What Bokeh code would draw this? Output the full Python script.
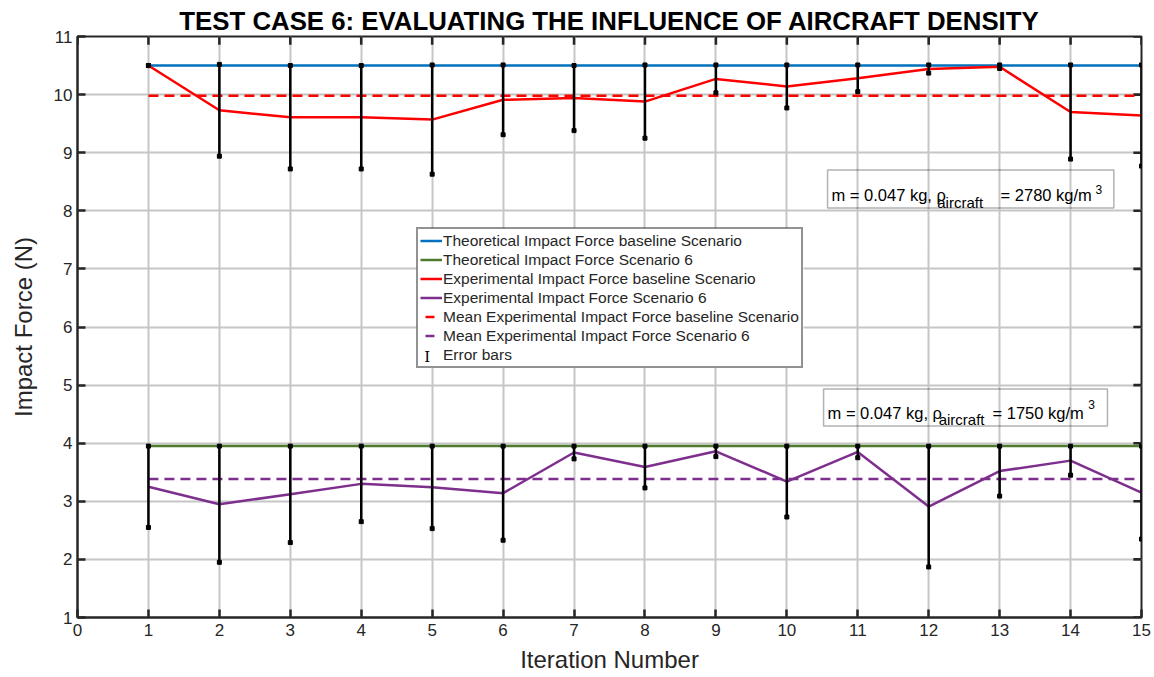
from bokeh.plotting import figure
from bokeh.models import (Range1d, FixedTicker, Legend, LegendItem,
                          Label, BoxAnnotation, ColumnDataSource)
from bokeh.embed import file_html
from bokeh.resources import INLINE

# ---------------- data ----------------
iterations = [1, 2, 3, 4, 5, 6, 7, 8, 9, 10, 11, 12, 13, 14, 15]
theo_baseline = [10.5, 10.5, 10.5, 10.5, 10.5, 10.5, 10.5, 10.5, 10.5, 10.5, 10.5, 10.5, 10.5, 10.5, 10.5]
theo_s6 = [3.95, 3.95, 3.95, 3.95, 3.95, 3.95, 3.95, 3.95, 3.95, 3.95, 3.95, 3.95, 3.95, 3.95, 3.95]
exp_baseline = [10.50, 9.73, 9.61, 9.61, 9.57, 9.91, 9.94, 9.88, 10.27, 10.14, 10.28, 10.44, 10.48, 9.70, 9.64]
exp_s6 = [3.25, 2.95, 3.12, 3.30, 3.24, 3.14, 3.84, 3.59, 3.86, 3.34, 3.85, 2.91, 3.52, 3.70, 3.15]
err_baseline = [0.00, 0.79, 0.89, 0.89, 0.94, 0.60, 0.56, 0.63, 0.24, 0.37, 0.23, 0.07, 0.03, 0.81, 0.87]
err_s6 = [0.70, 1.00, 0.83, 0.65, 0.71, 0.81, 0.11, 0.36, 0.09, 0.61, 0.10, 1.04, 0.43, 0.25, 0.80]
mean_baseline = [9.98] * 15
mean_s6 = [3.385] * 15
x_ticks = [0, 1, 2, 3, 4, 5, 6, 7, 8, 9, 10, 11, 12, 13, 14, 15]
y_ticks = [1, 2, 3, 4, 5, 6, 7, 8, 9, 10, 11]
X_MIN, X_MAX, Y_MIN, Y_MAX = 0, 15, 1, 11

TITLE = "TEST CASE 6: EVALUATING THE INFLUENCE OF AIRCRAFT DENSITY"
FONT = "Liberation Sans"
TXT = "#262626"
BLUE = "#0072BD"
GREEN = "#4E7A2E"
RED = "#FF0000"
PURPLE = "#7E2F8E"

p = figure(width=1154, height=677, x_range=Range1d(X_MIN, X_MAX), y_range=Range1d(Y_MIN, Y_MAX),
           output_backend="svg", toolbar_location=None,
           min_border_left=77, min_border_right=13, min_border_top=36, min_border_bottom=60)

p.title.text = TITLE
p.title.align = "center"
p.title.text_font = FONT
p.title.text_font_size = "25.8px"
p.title.text_font_style = "bold"
p.title.text_color = "#000000"
p.title.standoff = 4

p.outline_line_color = TXT
p.outline_line_width = 2
p.background_fill_color = "white"
p.border_fill_color = "white"

for ax in (p.xaxis[0], p.yaxis[0]):
    ax.major_label_text_font = FONT
    ax.major_label_text_font_size = "17px"
    ax.major_label_text_color = TXT
    ax.axis_line_color = TXT
    ax.axis_line_width = 2
    ax.major_tick_line_color = TXT
    ax.major_tick_line_width = 2.5
    ax.major_tick_in = 8
    ax.major_tick_out = 0
    ax.minor_tick_line_color = None
    ax.axis_label_text_font = FONT
    ax.axis_label_text_font_size = "24px"
    ax.axis_label_text_font_style = "normal"
    ax.axis_label_text_color = TXT

p.xaxis[0].ticker = FixedTicker(ticks=x_ticks)
p.yaxis[0].ticker = FixedTicker(ticks=y_ticks)
p.xaxis[0].axis_label = "Iteration Number"
p.yaxis[0].axis_label = "Impact Force (N)"
p.xaxis[0].major_label_standoff = 6
p.xaxis[0].axis_label_standoff = 7
p.yaxis[0].major_label_standoff = 5
p.yaxis[0].axis_label_standoff = 14

p.xgrid.ticker = FixedTicker(ticks=x_ticks)
p.ygrid.ticker = FixedTicker(ticks=y_ticks)
for g in (p.xgrid[0], p.ygrid[0]):
    g.grid_line_color = "#c6c6c6"
    g.grid_line_width = 2

# inward ticks on the top and right edges of the box (about 8 px long, 2.5 px thick)
TICK_LEN_Y = 0.14
TICK_LEN_X = 0.115
TICK_W_X = 0.036
TICK_W_Y = 0.044
p.vbar(x=x_ticks, top=[Y_MAX] * len(x_ticks), bottom=[Y_MAX - TICK_LEN_Y] * len(x_ticks),
       width=TICK_W_X, fill_color=TXT, line_color=None)
p.hbar(y=y_ticks, right=[X_MAX] * len(y_ticks), left=[X_MAX - TICK_LEN_X] * len(y_ticks),
       height=TICK_W_Y, fill_color=TXT, line_color=None)

src = ColumnDataSource(dict(
    x=iterations, tb=theo_baseline, t6=theo_s6, eb=exp_baseline, e6=exp_s6,
    mb=mean_baseline, m6=mean_s6,
    lb=[v - e for v, e in zip(exp_baseline, err_baseline)],
    ub=[v + e for v, e in zip(exp_baseline, err_baseline)],
    l6=[v - e for v, e in zip(exp_s6, err_s6)],
    u6=[v + e for v, e in zip(exp_s6, err_s6)],
))

r_tb = p.line("x", "tb", source=src, line_color=BLUE, line_width=2.5)
r_t6 = p.line("x", "t6", source=src, line_color=GREEN, line_width=2.5)
r_mb = p.line("x", "mb", source=src, line_color=RED, line_width=2.5, line_dash="10 6")
r_m6 = p.line("x", "m6", source=src, line_color=PURPLE, line_width=2.5, line_dash="10 6")
r_eb = p.line("x", "eb", source=src, line_color=RED, line_width=2.5)
r_e6 = p.line("x", "e6", source=src, line_color=PURPLE, line_width=2.5)

# error bars
for lo, hi in (("lb", "ub"), ("l6", "u6")):
    p.segment(x0="x", y0=lo, x1="x", y1=hi, source=src, line_color="black", line_width=2.5)
    p.scatter("x", lo, source=src, marker="square", size=4, fill_color="black", line_color="black")
    p.scatter("x", hi, source=src, marker="square", size=4, fill_color="black", line_color="black")

# legend-only proxies (drawn outside the visible ranges)
px = [X_MIN - 5]
py = [Y_MIN - 5]
leg_mb = p.line(px, py, line_color=RED, line_width=2.5, line_dash="0 5 9 40")
leg_m6 = p.line(px, py, line_color=PURPLE, line_width=2.5, line_dash="0 5 9 40")
leg_err = p.line(px, py, line_color=None)

# white panel under the (transparent) legend so the grid is hidden there
LEG_BOX = (4.779, 10.235, 5.294, 7.704)
p.add_layout(BoxAnnotation(left=LEG_BOX[0], right=LEG_BOX[1], bottom=LEG_BOX[2], top=LEG_BOX[3],
                           fill_color="white", fill_alpha=1, line_color=None))
# error-bar symbol of the legend
p.add_layout(Label(x=4.93, y=5.49, text="I", text_font="DejaVu Serif", text_font_size="15px",
                   text_color="black", text_align="center", text_baseline="middle"))

legend = Legend(items=[
    LegendItem(label="Theoretical Impact Force baseline Scenario", renderers=[r_tb]),
    LegendItem(label="Theoretical Impact Force Scenario 6", renderers=[r_t6]),
    LegendItem(label="Experimental Impact Force baseline Scenario", renderers=[r_eb]),
    LegendItem(label="Experimental Impact Force Scenario 6", renderers=[r_e6]),
    LegendItem(label="Mean Experimental Impact Force baseline Scenario", renderers=[leg_mb]),
    LegendItem(label="Mean Experimental Impact Force Scenario 6", renderers=[leg_m6]),
    LegendItem(label="Error bars", renderers=[leg_err]),
], location=(339, 249))
legend.label_text_font = FONT
legend.label_text_font_size = "15.5px"
legend.label_text_color = TXT
legend.label_height = 19
legend.glyph_height = 19
legend.glyph_width = 22
legend.label_standoff = 1
legend.spacing = 0
legend.padding = 2
legend.margin = 0
legend.border_line_color = TXT
legend.border_line_width = 2
legend.background_fill_alpha = 0
p.add_layout(legend)

# annotation boxes (positions in data coordinates)
def note(box, main_x, main_y, sub_x, sub_y, rest_x, sup_x, sup_y, rest_text):
    left, right, bottom, top = box
    p.add_layout(BoxAnnotation(left=left, right=right, bottom=bottom, top=top,
                               fill_alpha=0, line_color="black", line_width=1.5))
    for (x, y, t, fs) in ((main_x, main_y, "m = 0.047 kg, \u03c1", "16.5px"),
                          (sub_x, sub_y, "aircraft", "15px"),
                          (rest_x, main_y, rest_text, "16.5px"),
                          (sup_x, sup_y, "3", "12px")):
        p.add_layout(Label(x=x, y=y, text=t, text_font=FONT, text_font_size=fs,
                           text_color="black", text_baseline="alphabetic", text_align="left"))

note((10.574, 14.61, 8.048, 8.702), 10.63, 8.272, 12.12, 8.15, 13.013, 14.35, 8.37, "= 2780 kg/m")
note((10.518, 14.52, 4.297, 4.933), 10.574, 4.52, 12.14, 4.40, 12.90, 14.25, 4.66, "= 1750 kg/m")

open("out.html", "w").write(file_html(p, INLINE))
